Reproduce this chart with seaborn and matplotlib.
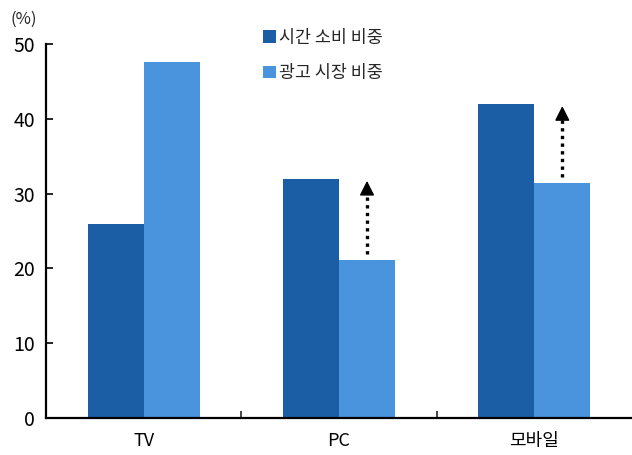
import matplotlib
matplotlib.use("Agg")
import matplotlib.pyplot as plt
import seaborn as sns
import pandas as pd
from matplotlib.patches import Rectangle

categories = ["TV", "PC", "모바일"]
series_names = ["시간 소비 비중", "광고 시장 비중"]
time_share = [26.0, 32.0, 42.0]
ad_share = [47.6, 21.1, 31.4]
y_ticks = [0, 10, 20, 30, 40, 50]

colors = ["#1B5EA6", "#4A94DE"]

df = pd.DataFrame({
    "category": categories * 2,
    "series": [series_names[0]] * 3 + [series_names[1]] * 3,
    "value": time_share + ad_share,
})

sns.set_theme(style="white")
plt.rcParams["font.family"] = ["Noto Sans CJK KR", "DejaVu Sans"]

fig = plt.figure(figsize=(6.32, 4.55), dpi=100)
ax = fig.add_axes([0.0728, 0.0813, 0.927, 0.822])

sns.barplot(data=df, x="category", y="value", hue="series", order=categories,
            hue_order=series_names, palette=colors, saturation=1, width=0.575,
            gap=0, ax=ax, legend=False, linewidth=0, edgecolor="none")

ax.set_xlim(-0.5, 2.5)
ax.set_ylim(0, 50)
ax.set_yticks(y_ticks)
ax.set_xlabel("")
ax.set_ylabel("")

for side in ["top", "right"]:
    ax.spines[side].set_visible(False)
for side in ["left", "bottom"]:
    ax.spines[side].set_linewidth(1.6)
    ax.spines[side].set_color("black")

ax.tick_params(axis="y", direction="in", length=5, width=1.2, labelsize=14,
               pad=8, colors="black", left=True)
ax.tick_params(axis="x", which="major", length=0, labelsize=13, pad=10,
               colors="black")
ax.set_xticks([0.5, 1.5], minor=True)
ax.tick_params(axis="x", which="minor", direction="in", length=5, width=1.2,
               bottom=True)

fig.text(0.016, 0.957, "(%)", fontsize=12, ha="left", va="center")

# Dotted arrows: gap between advertising share and time share
bar_offset = 0.575 / 4
head_len = 1.4
for i in [1, 2]:
    x = i + bar_offset
    tip = time_share[i] - 0.3
    ax.plot([x, x], [ad_share[i] + 0.8, tip - head_len], color="black",
            lw=2.4, linestyle=(0, (1, 1.3)), dash_capstyle="butt")
    ax.annotate("", xy=(x, tip), xytext=(x, tip - head_len),
                arrowprops=dict(arrowstyle="-|>,head_length=0.75,head_width=0.38",
                                lw=1, color="black", shrinkA=0, shrinkB=0))

handles = [Rectangle((0, 0), 1, 1, facecolor=c, edgecolor="none") for c in colors]
leg = fig.legend(handles, series_names, loc="upper left",
                 bbox_to_anchor=(0.405, 0.952), frameon=False, fontsize=12.5,
                 handlelength=0.75, handleheight=0.75, handletextpad=0.2,
                 labelspacing=1.0, borderaxespad=0)

fig.savefig("out.png", dpi=100)
